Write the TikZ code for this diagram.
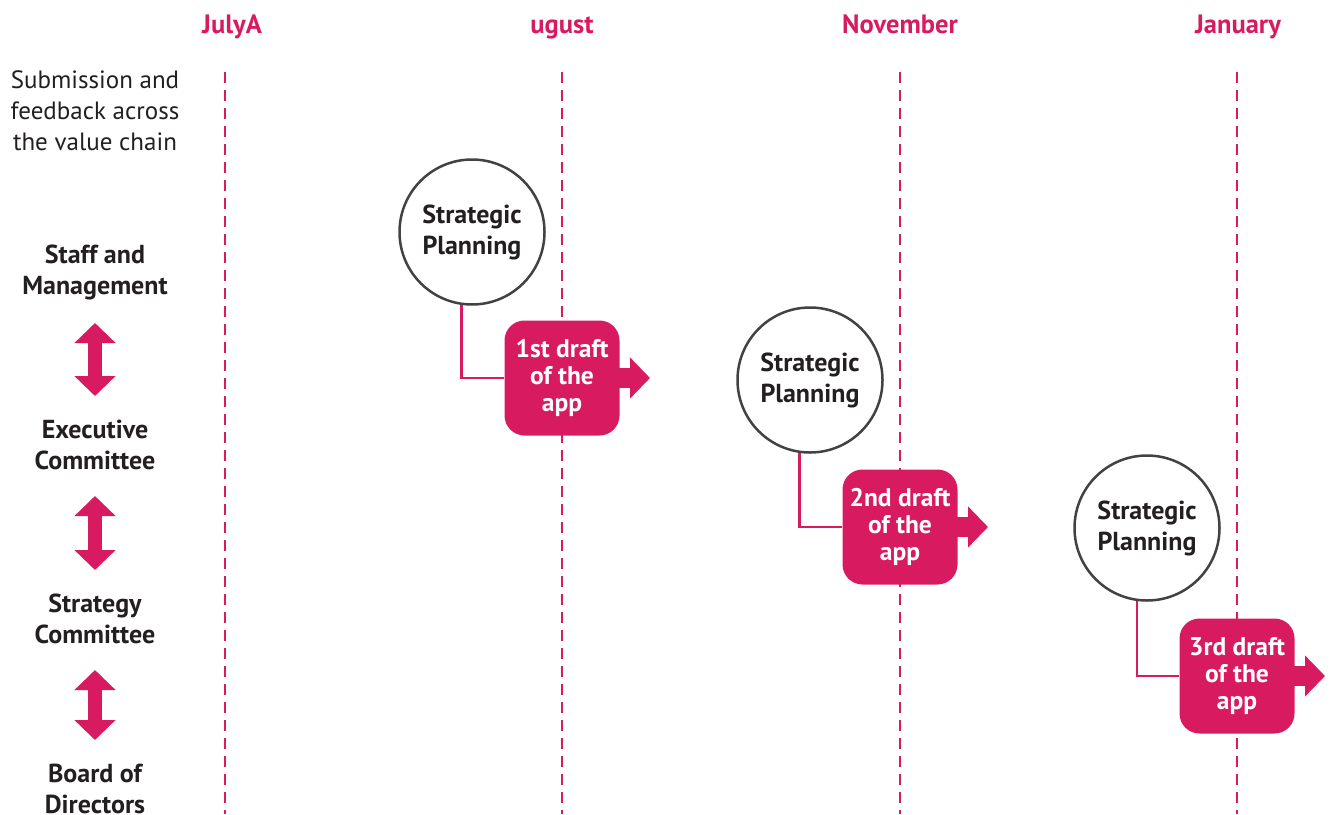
\documentclass[tikz,border=0pt]{standalone}
\usepackage{fontspec}
\setmainfont{PT Sans}
\usetikzlibrary{arrows.meta,positioning}
\definecolor{rose}{RGB}{216,27,96}
\definecolor{ink}{RGB}{35,31,32}

\begin{document}
\begin{tikzpicture}[x=1pt,y=-1pt,text=ink,font=\fontsize{25}{31}\selectfont,
  mon/.style={anchor=base,font=\fontsize{26.5}{30}\selectfont\bfseries,text=rose},
  grp/.style={align=center,font=\fontsize{26}{31}\selectfont\bfseries},
  sp/.style={circle,draw=ink!85,line width=2.5pt,minimum size=145pt,inner sep=0pt,
    align=center,font=\fontsize{26}{31}\selectfont\bfseries},
  draft/.style={fill=rose,rounded corners=20pt,minimum size=115pt,inner sep=0pt,
    align=center,text=white,font=\fontsize{25.5}{27}\selectfont\bfseries},
  vline/.style={rose,line width=2.5pt,dash pattern=on 11pt off 7pt},
  link/.style={rose,line width=2.5pt},
  flow/.style={rose,line width=20pt,-{Triangle[length=20pt,width=40pt]}},
  updown/.style={rose,line width=14pt,
    {Triangle[length=20pt,width=40pt]}-{Triangle[length=20pt,width=40pt]}}]
\useasboundingbox (0,0) rectangle (1335,814);
% months and time lines
\node[mon](jul) at (232,33){JulyA};
\node[mon](aug) at (562,33){ugust};
\node[mon](nov) at (900,33){November};
\node[mon](jan) at (1238,33){January};
\foreach \x in {225,562,900,1237} \draw[vline](\x,72)--(\x,814);
% left column
\node[align=center](sub) at (95,111){Submission and\\feedback across\\the value chain};
\node[grp](staff) at (95,272){Staff and\\Management};
\node[grp](exec) at (95,445){Executive\\Committee};
\node[grp](strat) at (95,619){Strategy\\Committee};
\node[grp](board) at (95,789){Board of\\Directors};
\foreach \a/\b in {staff/exec,exec/strat,strat/board}
  \draw[updown,shorten <=51pt,shorten >=49pt](\a.center)--(\b.center);
% planning rounds
\node[sp](sp1) at (472,232){Strategic\\Planning};
\node[sp](sp2) at (810,380){Strategic\\Planning};
\node[sp](sp3) at (1147,528){Strategic\\Planning};
\foreach \i/\x/\y/\t in {1/562/378/1st,2/900/527/2nd,3/1237/676/3rd}{
  \draw[flow](\x,\y)--++(88,0)coordinate(o\i);
  \node[draft](d\i) at (\x,\y){\t\ draft\\of the\\app};
  \draw[link](sp\i.262)|-(d\i.west);
}
\end{tikzpicture}
\end{document}
